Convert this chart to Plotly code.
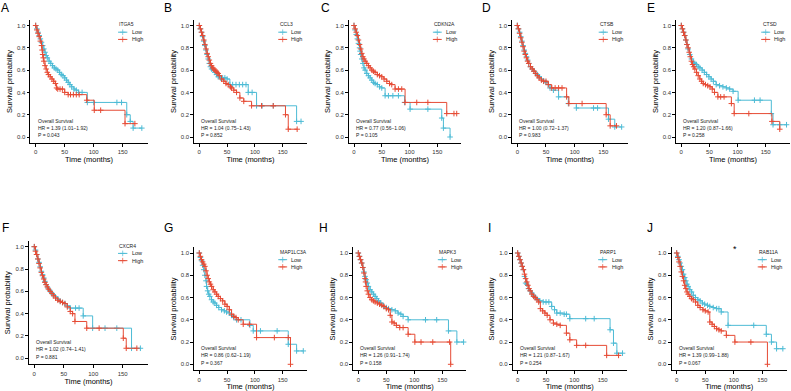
import plotly.graph_objects as go

# ---------------- data ----------------
panel_letters = ["A", "B", "C", "D", "E", "F", "G", "H", "I", "J"]
genes = ["ITGA5", "CCL3", "CDKN2A", "CTSB", "CTSD", "CXCR4", "MAP1LC3A", "MAPK3", "PARP1", "RAB11A"]
hr_texts = ["HR = 1.39 (1.01\u22121.92)", "HR = 1.04 (0.75\u22121.43)", "HR = 0.77 (0.56\u22121.06)",
            "HR = 1.00 (0.72\u22121.37)", "HR = 1.20 (0.87\u22121.66)", "HR = 1.02 (0.74\u22121.41)",
            "HR = 0.86 (0.62\u22121.19)", "HR = 1.26 (0.91\u22121.74)", "HR = 1.21 (0.87\u22121.67)",
            "HR = 1.39 (0.99\u22121.88)"]
p_texts = ["P = 0.043", "P = 0.852", "P = 0.105", "P = 0.983", "P = 0.258",
           "P = 0.881", "P = 0.367", "P = 0.158", "P = 0.254", "P = 0.067"]
x_ticks = [0, 50, 100, 150]
y_ticks = [0.0, 0.2, 0.4, 0.6, 0.8, 1.0]

ITGA5_low_t = [0,2,4,6,8,10,12,14,16,18,20,23,26,29,32,35,38,41,44,47,50,53,56,59,62,66,70,74,80,89,100,140,148,157,163,168,183]
ITGA5_low_s = [1.0,0.97,0.94,0.91,0.88,0.85,0.82,0.79,0.76,0.73,0.71,0.68,0.66,0.64,0.62,0.61,0.60,0.58,0.56,0.55,0.53,0.51,0.49,0.47,0.45,0.43,0.42,0.40,0.40,0.31,0.31,0.31,0.31,0.20,0.14,0.08,0.08]
ITGA5_high_t = [0,2,4,6,8,10,11,12,13,14,16,18,20,22,25,28,31,34,36,38,42,46,50,56,60,65,70,75,88,101,112,154,171]
ITGA5_high_s = [1.0,0.96,0.93,0.90,0.86,0.82,0.78,0.74,0.71,0.68,0.64,0.61,0.58,0.56,0.54,0.52,0.50,0.48,0.44,0.43,0.43,0.43,0.40,0.38,0.38,0.38,0.38,0.38,0.33,0.24,0.24,0.12,0.12]

CCL3_low_t = [0,2,4,6,8,10,12,14,16,18,20,22,25,28,31,34,38,42,46,50,55,60,66,72,78,84,88,95,103,113,133,175,183]
CCL3_low_s = [1.0,0.97,0.94,0.90,0.86,0.82,0.78,0.74,0.70,0.66,0.63,0.61,0.60,0.58,0.56,0.54,0.53,0.53,0.53,0.52,0.47,0.47,0.47,0.47,0.47,0.47,0.40,0.40,0.28,0.28,0.28,0.14,0.14]
CCL3_high_t = [0,2,4,6,8,10,12,14,16,18,20,22,24,26,28,30,32,34,36,40,44,48,52,56,58,62,67,73,80,94,112,133,155,160,176]
CCL3_high_s = [1.0,0.97,0.94,0.91,0.87,0.83,0.79,0.75,0.72,0.69,0.66,0.64,0.62,0.61,0.60,0.59,0.58,0.57,0.55,0.52,0.50,0.48,0.47,0.45,0.44,0.42,0.40,0.35,0.32,0.28,0.28,0.28,0.20,0.07,0.07]

CDKN2A_low_t = [0,2,4,6,8,10,11,12,14,16,18,20,23,26,29,32,35,38,42,46,50,56,62,70,80,91,101,133,158,161,173]
CDKN2A_low_s = [1.0,0.96,0.92,0.88,0.84,0.80,0.77,0.74,0.70,0.66,0.62,0.60,0.57,0.55,0.53,0.51,0.49,0.48,0.47,0.45,0.44,0.37,0.37,0.37,0.37,0.31,0.25,0.25,0.17,0.08,0.0]
CDKN2A_high_t = [0,2,4,6,8,10,12,14,16,18,20,23,26,29,32,35,38,42,46,50,54,59,64,68,74,80,86,92,113,133,167,180,185]
CDKN2A_high_s = [1.0,0.97,0.94,0.91,0.87,0.83,0.79,0.75,0.72,0.70,0.68,0.66,0.64,0.62,0.60,0.59,0.58,0.56,0.55,0.54,0.52,0.50,0.48,0.47,0.43,0.43,0.43,0.31,0.31,0.31,0.21,0.21,0.21]

CTSB_low_t = [0,2,4,6,8,10,12,14,16,18,20,23,26,29,32,35,38,42,46,50,54,57,63,72,89,103,133,140,159,170,182]
CTSB_low_s = [1.0,0.97,0.94,0.90,0.86,0.82,0.78,0.75,0.72,0.69,0.66,0.63,0.61,0.59,0.57,0.56,0.54,0.52,0.50,0.49,0.47,0.44,0.42,0.36,0.30,0.26,0.26,0.26,0.16,0.09,0.09]
CTSB_high_t = [0,2,4,6,8,10,12,14,16,18,20,23,26,29,32,35,38,42,46,50,54,60,66,72,78,86,90,113,155,162,173]
CTSB_high_s = [1.0,0.97,0.93,0.89,0.85,0.81,0.77,0.74,0.71,0.68,0.66,0.63,0.61,0.59,0.57,0.55,0.53,0.51,0.50,0.50,0.47,0.44,0.44,0.44,0.44,0.36,0.30,0.30,0.20,0.10,0.10]

CTSD_low_t = [0,2,4,6,8,10,12,15,18,21,24,27,30,33,37,41,45,49,53,57,62,68,74,80,86,92,101,130,140,160,163,175,187]
CTSD_low_s = [1.0,0.97,0.94,0.91,0.87,0.83,0.79,0.74,0.70,0.67,0.66,0.65,0.63,0.62,0.60,0.58,0.56,0.54,0.52,0.50,0.47,0.46,0.45,0.44,0.43,0.41,0.33,0.33,0.33,0.21,0.11,0.11,0.11]
CTSD_high_t = [0,2,4,6,8,10,12,14,16,18,20,22,24,27,30,33,36,39,43,47,51,55,59,65,70,76,89,94,120,161,175]
CTSD_high_s = [1.0,0.97,0.94,0.91,0.87,0.83,0.80,0.76,0.72,0.68,0.65,0.63,0.61,0.58,0.55,0.52,0.50,0.48,0.47,0.46,0.45,0.43,0.40,0.36,0.36,0.36,0.30,0.21,0.21,0.14,0.07]

CXCR4_low_t = [0,2,4,6,8,10,12,14,16,18,20,23,26,29,32,36,40,44,48,52,56,61,70,76,83,99,120,140,165,180]
CXCR4_low_s = [1.0,0.97,0.93,0.89,0.86,0.82,0.78,0.75,0.72,0.69,0.66,0.63,0.61,0.59,0.57,0.55,0.53,0.51,0.50,0.49,0.47,0.45,0.45,0.45,0.38,0.27,0.27,0.27,0.09,0.09]
CXCR4_high_t = [0,2,4,6,8,10,12,14,16,18,20,22,24,27,30,33,36,40,44,48,52,56,61,65,69,89,110,151,156,174]
CXCR4_high_s = [1.0,0.96,0.93,0.89,0.85,0.81,0.77,0.74,0.71,0.68,0.66,0.64,0.62,0.60,0.58,0.56,0.54,0.52,0.51,0.50,0.49,0.46,0.42,0.40,0.33,0.27,0.27,0.18,0.09,0.09]

MAP1LC3A_low_t = [0,2,4,6,8,10,12,13,15,17,19,22,25,28,31,35,40,45,49,54,58,62,67,75,91,97,110,140,160,175,187]
MAP1LC3A_low_s = [1.0,0.96,0.93,0.89,0.85,0.80,0.75,0.70,0.66,0.63,0.61,0.58,0.56,0.55,0.53,0.51,0.49,0.48,0.47,0.46,0.44,0.42,0.40,0.40,0.35,0.30,0.30,0.30,0.18,0.12,0.12]
MAP1LC3A_high_t = [0,2,4,6,8,10,12,14,16,18,20,22,25,28,31,34,38,42,46,50,54,58,62,66,70,79,90,103,135,160,164]
MAP1LC3A_high_s = [1.0,0.97,0.94,0.92,0.90,0.88,0.84,0.80,0.77,0.74,0.72,0.70,0.67,0.65,0.63,0.61,0.59,0.57,0.54,0.52,0.49,0.45,0.43,0.42,0.40,0.36,0.36,0.24,0.24,0.24,0.0]

MAPK3_low_t = [0,2,4,6,8,10,12,14,16,18,21,24,27,30,33,36,40,45,50,54,60,66,71,76,80,89,120,140,161,176,188]
MAPK3_low_s = [1.0,0.97,0.94,0.91,0.87,0.83,0.79,0.76,0.73,0.70,0.67,0.65,0.63,0.61,0.59,0.57,0.55,0.52,0.51,0.50,0.49,0.48,0.46,0.45,0.43,0.40,0.40,0.40,0.30,0.20,0.20]
MAPK3_high_t = [0,2,4,6,8,10,12,13,14,16,18,21,24,27,30,34,38,42,46,50,54,57,60,64,68,74,80,89,101,112,133,163,165]
MAPK3_high_s = [1.0,0.97,0.94,0.91,0.87,0.82,0.77,0.74,0.70,0.66,0.63,0.60,0.58,0.57,0.56,0.55,0.54,0.53,0.52,0.50,0.49,0.44,0.38,0.37,0.35,0.33,0.33,0.27,0.20,0.20,0.20,0.20,0.0]

PARP1_low_t = [0,2,4,6,8,10,12,14,16,19,22,25,28,31,34,39,45,50,55,60,65,69,75,82,86,92,120,135,163,169,175,185]
PARP1_low_s = [1.0,0.97,0.94,0.91,0.88,0.85,0.79,0.73,0.72,0.68,0.66,0.64,0.62,0.60,0.59,0.57,0.56,0.56,0.56,0.52,0.49,0.46,0.46,0.45,0.45,0.41,0.41,0.41,0.31,0.19,0.10,0.10]
PARP1_high_t = [0,2,4,6,8,10,12,14,16,18,20,22,25,28,31,34,37,40,44,48,52,57,63,69,75,86,92,104,120,157,178]
PARP1_high_s = [1.0,0.97,0.94,0.91,0.88,0.85,0.81,0.77,0.74,0.71,0.68,0.66,0.63,0.61,0.60,0.58,0.56,0.50,0.48,0.46,0.44,0.40,0.37,0.36,0.35,0.28,0.22,0.17,0.17,0.08,0.08]

RAB11A_low_t = [0,2,4,6,8,10,12,14,16,18,20,23,26,29,33,37,41,45,49,54,58,64,70,74,78,90,135,157,166,175,186]
RAB11A_low_s = [1.0,0.97,0.94,0.91,0.88,0.85,0.81,0.78,0.75,0.72,0.70,0.67,0.65,0.62,0.60,0.58,0.57,0.55,0.54,0.53,0.52,0.51,0.50,0.50,0.47,0.35,0.35,0.27,0.20,0.14,0.14]
RAB11A_high_t = [0,2,4,6,8,10,12,14,16,18,20,23,26,29,33,37,41,46,50,55,58,62,66,70,74,78,87,102,130,159]
RAB11A_high_s = [1.0,0.96,0.92,0.88,0.83,0.79,0.75,0.71,0.68,0.65,0.63,0.61,0.59,0.58,0.56,0.53,0.51,0.49,0.48,0.47,0.38,0.36,0.34,0.32,0.31,0.30,0.26,0.20,0.20,0.0]

low_series = [(ITGA5_low_t, ITGA5_low_s), (CCL3_low_t, CCL3_low_s), (CDKN2A_low_t, CDKN2A_low_s),
              (CTSB_low_t, CTSB_low_s), (CTSD_low_t, CTSD_low_s), (CXCR4_low_t, CXCR4_low_s),
              (MAP1LC3A_low_t, MAP1LC3A_low_s), (MAPK3_low_t, MAPK3_low_s), (PARP1_low_t, PARP1_low_s),
              (RAB11A_low_t, RAB11A_low_s)]
high_series = [(ITGA5_high_t, ITGA5_high_s), (CCL3_high_t, CCL3_high_s), (CDKN2A_high_t, CDKN2A_high_s),
               (CTSB_high_t, CTSB_high_s), (CTSD_high_t, CTSD_high_s), (CXCR4_high_t, CXCR4_high_s),
               (MAP1LC3A_high_t, MAP1LC3A_high_s), (MAPK3_high_t, MAPK3_high_s), (PARP1_high_t, PARP1_high_s),
               (RAB11A_high_t, RAB11A_high_s)]

# ---------------- layout (pixels) ----------------
W, H = 791, 391
LOW_COL = "#4DBBD5"
HIGH_COL = "#E64B35"
FONT = "Liberation Sans, Arial, sans-serif"
XR = [-9, 193]
YR = [-0.055, 1.05]
# pixel position of x=0 and x=150 for each panel
x0_px = [35.7, 199.3, 354.0, 517.3, 681.3, 34.3, 199.3, 358.3, 517.7, 676.7]
x150_px = [122.7, 282.7, 437.3, 603.3, 765.7, 122.7, 282.7, 442.3, 602.7, 762.3]
# pixel position of y=1.0 and y=0.0
y1_px = [25.5] * 5 + [246.7, 253.0, 253.0, 253.0, 253.0]
y0_px = [137.0] * 5 + [358.3, 364.3, 364.3, 364.3, 364.3]
label_px = [(5, 8), (168, 8), (325, 8), (486, 8), (651, 8),
            (5, 228), (168, 228), (323, 228), (490, 228), (650, 228)]

fig = go.Figure()
annotations = []
layout_axes = {}

for i in range(10):
    n = "" if i == 0 else str(i + 1)
    xa, ya = "x" + n, "y" + n
    k = (x150_px[i] - x0_px[i]) / 150.0
    xl = x0_px[i] + XR[0] * k
    xr = x0_px[i] + XR[1] * k
    ky = (y0_px[i] - y1_px[i])
    yb = y0_px[i] - YR[0] * ky
    yt = y0_px[i] - YR[1] * ky
    axcommon = dict(showline=True, linecolor="black", linewidth=0.8, ticks="outside", ticklen=3,
                    tickwidth=0.8, tickcolor="black", showgrid=False, zeroline=False,
                    tickfont=dict(size=6, color="#333333", family=FONT))
    layout_axes["xaxis" + n] = dict(domain=[xl / W, min(xr / W, 1.0)], range=XR, anchor=ya,
                                    tickvals=x_ticks,
                                    title=dict(text="Time (months)", font=dict(size=7.5, family=FONT, color="black"), standoff=2),
                                    **axcommon)
    layout_axes["yaxis" + n] = dict(domain=[1 - yb / H, 1 - yt / H], range=YR, anchor=xa,
                                    tickvals=y_ticks, ticktext=["%.1f" % v for v in y_ticks],
                                    title=dict(text="Survival probability", font=dict(size=7.5, family=FONT, color="black"), standoff=3),
                                    **axcommon)
    for (t, s), col in ((low_series[i], LOW_COL), (high_series[i], HIGH_COL)):
        fig.add_trace(go.Scatter(x=t, y=s, xaxis=xa, yaxis=ya, mode="lines+markers", line_shape="hv",
                                 line=dict(color=col, width=1),
                                 marker=dict(symbol="cross-thin", size=4, line=dict(color=col, width=1)),
                                 showlegend=False, hoverinfo="skip", cliponaxis=False))
    # legend
    for lab, yy, col in (("Low", 0.94, LOW_COL), ("High", 0.875, HIGH_COL)):
        fig.add_trace(go.Scatter(x=[142, 150, 158], y=[yy] * 3, xaxis=xa, yaxis=ya, mode="lines+markers",
                                 line=dict(color=col, width=1),
                                 marker=dict(symbol="cross-thin", size=[0, 4, 0], line=dict(color=col, width=1)),
                                 showlegend=False, hoverinfo="skip"))
        annotations.append(dict(x=162, y=yy, xref=xa, yref=ya, text=lab, showarrow=False,
                                xanchor="left", yanchor="middle", font=dict(size=5.5, family=FONT, color="#222")))
    annotations.append(dict(x=141, y=1.01, xref=xa, yref=ya, text=genes[i], showarrow=False,
                            xanchor="left", yanchor="middle", font=dict(size=5, family=FONT, color="#222")))
    # stats text
    for txt, yy in (("Overall Survival", 0.145), (hr_texts[i], 0.08), (p_texts[i], 0.015)):
        annotations.append(dict(x=0, y=yy, xref=xa, yref=ya, text=txt, showarrow=False,
                                xanchor="left", yanchor="middle", font=dict(size=5, family=FONT, color="#222")))
    # panel letter
    lx, ly = label_px[i]
    annotations.append(dict(x=lx / W, y=1 - ly / H, xref="paper", yref="paper", text=panel_letters[i],
                            showarrow=False, xanchor="center", yanchor="middle",
                            font=dict(size=12, family=FONT, color="black")))

annotations.append(dict(x=102, y=1.04, xref="x10", yref="y10", text="*", showarrow=False,
                        xanchor="center", yanchor="middle", font=dict(size=9, family=FONT, color="black")))

fig.update_layout(width=W, height=H, margin=dict(l=0, r=0, t=0, b=0),
                  paper_bgcolor="white", plot_bgcolor="white", showlegend=False,
                  annotations=annotations, **layout_axes)
fig.write_html("out.html", config={"displayModeBar": False},
               post_script="document.body.style.margin='0';document.body.style.overflow='hidden';")
